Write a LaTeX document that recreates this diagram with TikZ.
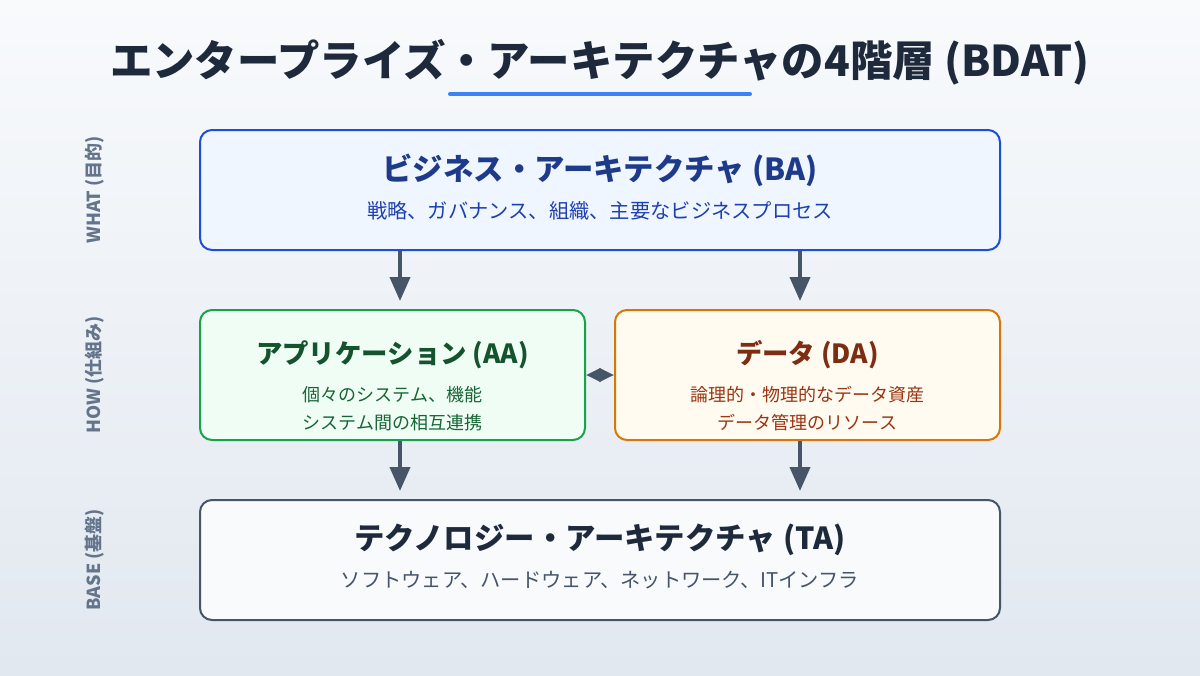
\documentclass[tikz,border=0pt]{standalone}
\usepackage{fontspec}
\setmainfont{Noto Sans CJK JP}
\usetikzlibrary{arrows.meta}

\definecolor{bgtop}{HTML}{F8FAFC}
\definecolor{bgbot}{HTML}{E2E8F0}
\definecolor{ink}{HTML}{1E293B}
\definecolor{accent}{HTML}{3B82F6}
\definecolor{slate}{HTML}{475569}
\definecolor{sidegray}{HTML}{64748B}
\definecolor{baline}{HTML}{1D4ED8}
\definecolor{bafill}{HTML}{EFF6FF}
\definecolor{batext}{HTML}{1E3A8A}
\definecolor{basub}{HTML}{1E40AF}
\definecolor{aaline}{HTML}{16A34A}
\definecolor{aafill}{HTML}{F0FDF4}
\definecolor{aatext}{HTML}{14532D}
\definecolor{aasub}{HTML}{166534}
\definecolor{daline}{HTML}{D97706}
\definecolor{dafill}{HTML}{FFFBF0}
\definecolor{datext}{HTML}{7C2D12}
\definecolor{dasub}{HTML}{9A3412}
\definecolor{tafill}{HTML}{F8FAFC}

\tikzset{
  layer/.style={rounded corners=9pt, line width=1.5pt, inner sep=0pt},
  widebox/.style={layer, minimum width=600pt, minimum height=90pt},
  halfbox/.style={layer, minimum width=288.75pt, minimum height=97.5pt},
  bigtitle/.style={font=\fontsize{22.8}{27}\selectfont\bfseries},
  smalltitle/.style={font=\fontsize{19.8}{23}\selectfont\bfseries},
  bigsub/.style={font=\fontsize{15.2}{18}\selectfont},
  smallsub/.style={font=\fontsize{13.5}{21}\selectfont, align=center},
  sidelabel/.style={rotate=90, text=sidegray, font=\fontsize{13.5}{16}\selectfont\bfseries},
  flow/.style={slate, line width=3pt, -{Triangle[width=15pt,length=18pt]}, shorten >=6pt},
  link/.style={slate, line width=2.25pt, {Triangle[width=10pt,length=11pt]}-{Triangle[width=10pt,length=11pt]}}
}

\begin{document}
\begin{tikzpicture}[x=0.75pt,y=-0.75pt]
  % background
  \shade[top color=bgtop, bottom color=bgbot] (0,0) rectangle (1200,675);

  % title
  \node[text=ink, font=\fontsize{31.8}{38}\selectfont\bfseries] (title) at (600,62) {エンタープライズ・アーキテクチャの4階層 (BDAT)};
  \coordinate (ul-l) at (450,94);
  \coordinate (ul-r) at (750,94);
  \draw[accent, line width=3pt, line cap=round] (ul-l) -- (ul-r);

  % side labels
  \node[sidelabel] (what) at (95,190) {WHAT (目的)};
  \node[sidelabel] (how) at (95,375) {HOW (仕組み)};
  \node[sidelabel] (base) at (95,560) {BASE (基盤)};

  % layers
  \node[widebox, draw=baline, fill=bafill] (ba) at (600,190) {};
  \node[bigtitle, text=batext] (ba-title) at (600,170) {ビジネス・アーキテクチャ (BA)};
  \node[bigsub, text=basub] (ba-sub) at (600,211) {戦略、ガバナンス、組織、主要なビジネスプロセス};

  \node[halfbox, draw=aaline, fill=aafill] (aa) at (392.5,375) {};
  \node[smalltitle, text=aatext] (aa-title) at (392.5,355) {アプリケーション (AA)};
  \node[smallsub, text=aasub] (aa-sub) at (392.5,409) {個々のシステム、機能\\システム間の相互連携};

  \node[halfbox, draw=daline, fill=dafill] (da) at (807.5,375) {};
  \node[smalltitle, text=datext] (da-title) at (807.5,355) {データ (DA)};
  \node[smallsub, text=dasub] (da-sub) at (807.5,409) {論理的・物理的なデータ資産\\データ管理のリソース};

  \node[widebox, draw=slate, fill=tafill] (ta) at (600,560) {};
  \node[bigtitle, text=ink] (ta-title) at (600,540) {テクノロジー・アーキテクチャ (TA)};
  \node[bigsub, text=slate] (ta-sub) at (600,580) {ソフトウェア、ハードウェア、ネットワーク、ITインフラ};

  % connectors
  \coordinate (left) at (400,0);
  \coordinate (right) at (800,0);
  \draw[flow] (ba.south -| left) -- (aa.north -| left);
  \draw[flow] (ba.south -| right) -- (da.north -| right);
  \draw[flow] (aa.south -| left) -- (ta.north -| left);
  \draw[flow] (da.south -| right) -- (ta.north -| right);
  \draw[link] (aa.east) -- (da.west);
\end{tikzpicture}
\end{document}
